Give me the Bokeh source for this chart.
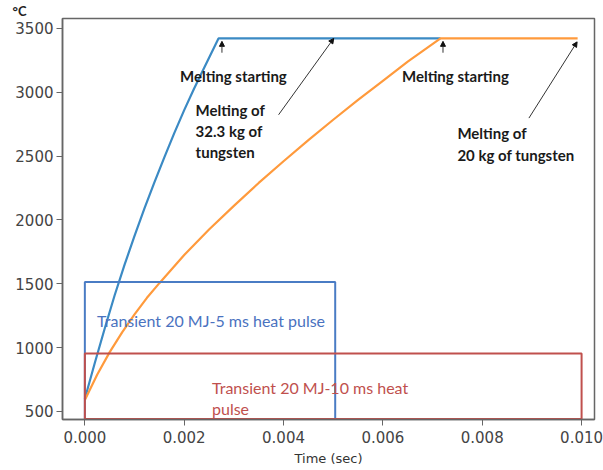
from bokeh.plotting import figure
from bokeh.models import Range1d, FixedTicker, NumeralTickFormatter, Label, Arrow, NormalHead, ColumnDataSource, Title
from bokeh.embed import file_html
from bokeh.resources import INLINE

# ---- data ----
blue_t = [0.0, 0.0002, 0.0004, 0.0006, 0.0008, 0.001, 0.0012, 0.0014, 0.0016, 0.0018, 0.002, 0.0022, 0.0024, 0.00269, 0.00716]
blue_T = [600, 880, 1150, 1410, 1650, 1875, 2090, 2295, 2490, 2680, 2860, 3030, 3190, 3422, 3422]

orange_t = [0.0, 0.00025, 0.0005, 0.00075, 0.001, 0.00125, 0.0015, 0.002, 0.0025, 0.003, 0.0035, 0.004, 0.0045, 0.005, 0.0055, 0.006, 0.0065, 0.00716, 0.00992]
orange_T = [590, 790, 965, 1120, 1260, 1390, 1505, 1725, 1925, 2110, 2290, 2460, 2625, 2785, 2940, 3090, 3240, 3422, 3422]

# heat-pulse boxes: [5 ms pulse, 10 ms pulse]
pulse_left = [0.0, 0.0]
pulse_right = [0.00504, 0.0100]
pulse_top = [1515, 953]
pulse_bottom = [440, 440]
pulse_colors = ["#4a7cc4", "#c0504d"]

x_ticks = [0.0, 0.002, 0.004, 0.006, 0.008, 0.010]
y_ticks = [500, 1000, 1500, 2000, 2500, 3000, 3500]

TICK_FONT = "DejaVu Sans"
NOTE_FONT = "Lato"

p = figure(width=603, height=470, output_backend="svg", toolbar_location=None,
           x_range=Range1d(-0.00045, 0.01026), y_range=Range1d(437, 3578),
           min_border_left=62, min_border_right=9, min_border_top=4, min_border_bottom=51)

# unit label in the top-left corner
p.add_layout(Title(text="°C", align="left", offset=-50, standoff=0,
                   text_font=NOTE_FONT, text_font_size="13px", text_font_style="bold",
                   text_color="#222222", text_line_height=1.0), "above")

p.grid.visible = False
p.outline_line_color = "#666666"
p.outline_line_width = 1.5
p.background_fill_color = "white"
p.border_fill_color = "white"

for ax in (p.xaxis[0], p.yaxis[0]):
    ax.axis_line_color = "#666666"
    ax.axis_line_width = 1.5
    ax.major_tick_line_color = "#666666"
    ax.major_tick_in = 0
    ax.major_tick_out = 6
    ax.minor_tick_line_color = None
    ax.major_label_text_font = TICK_FONT
    ax.major_label_text_font_size = "15px"
    ax.major_label_text_color = "#444444"

p.xaxis.ticker = FixedTicker(ticks=x_ticks)
p.xaxis.formatter = NumeralTickFormatter(format="0.000")
p.xaxis.major_label_standoff = 5
p.xaxis.axis_label = "Time (sec)"
p.xaxis.axis_label_text_font = TICK_FONT
p.xaxis.axis_label_text_font_style = "normal"
p.xaxis.axis_label_text_font_size = "13px"
p.xaxis.axis_label_text_color = "#333333"
p.xaxis.axis_label_standoff = 5

p.yaxis.ticker = FixedTicker(ticks=y_ticks)
p.yaxis.formatter = NumeralTickFormatter(format="0")
p.yaxis.major_label_standoff = 3

# curves
p.line(blue_t, blue_T, line_color="#3b8ac4", line_width=2.2)
p.line(orange_t, orange_T, line_color="#ff9a3c", line_width=2.2)

# pulse boxes
box_src = ColumnDataSource(dict(left=pulse_left, right=pulse_right, top=pulse_top,
                                bottom=pulse_bottom, color=pulse_colors))
p.quad(left="left", right="right", top="top", bottom="bottom", source=box_src,
       fill_color=None, line_color="color", line_width=2)

# annotations
def note(x, y, text, color="#1a1a1a", align="left", bold=False, size="15px"):
    p.add_layout(Label(x=x, y=y, text=text, text_font=NOTE_FONT, text_font_size=size,
                       text_color=color, text_align=align, text_baseline="middle",
                       text_font_style="bold" if bold else "normal"))

note(0.00299, 3124, "Melting starting", align="center", bold=True)
note(0.00746, 3124, "Melting starting", align="center", bold=True)
note(0.00223, 2862, "Melting of", bold=True)
note(0.00223, 2699, "32.3 kg of", bold=True)
note(0.00223, 2535, "tungsten", bold=True)
note(0.0075, 2680, "Melting of", bold=True)
note(0.0075, 2509, "20 kg of tungsten", bold=True)
note(0.000246, 1214, "Transient 20 MJ-5 ms heat pulse", color="#4a72c0", size="16px")
note(0.00256, 691, "Transient 20 MJ-10 ms heat", color="#c0504d", size="16px")
note(0.00256, 521, "pulse", color="#c0504d", size="16px")

def arrow(x0, y0, x1, y1):
    p.add_layout(Arrow(x_start=x0, y_start=y0, x_end=x1, y_end=y1,
                       line_color="#333333", line_width=1,
                       end=NormalHead(size=5, fill_color="#111111", line_color="#111111")))

arrow(0.00276, 3310, 0.00276, 3399)
arrow(0.00721, 3310, 0.00721, 3399)
arrow(0.0039, 2824, 0.00501, 3422)
arrow(0.00894, 2798, 0.00991, 3395)

open("out.html", "w").write(file_html(p, INLINE))
